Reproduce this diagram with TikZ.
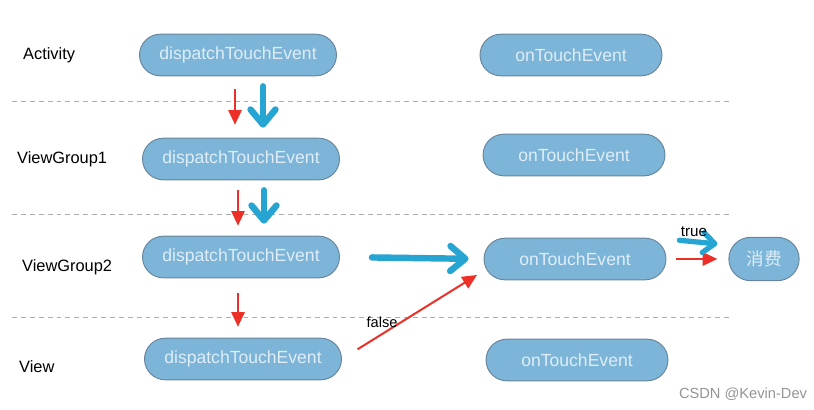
\documentclass[tikz,border=0pt]{standalone}
\usepackage{fontspec}
\setmainfont{Liberation Sans}
\newfontfamily\cjk{Noto Sans CJK SC}
\usepackage{tikz}
\usetikzlibrary{arrows.meta,shapes.misc,calc}
\definecolor{pill}{RGB}{124,181,215}
\definecolor{pillline}{RGB}{104,132,156}
\definecolor{pilltext}{RGB}{222,237,248}
\definecolor{flowblue}{RGB}{38,164,210}
\definecolor{flowred}{RGB}{236,48,40}
\definecolor{sepgray}{RGB}{172,172,172}
\tikzset{pillbox/.style={rounded rectangle,draw=pillline,line width=.8pt,fill=pill,text=pilltext,minimum height=1.25cm,inner sep=2pt,font=\fontsize{15}{18}\selectfont},redarr/.style={-{Triangle[length=4.4mm,width=4mm]},draw=flowred,line width=1.7pt},bluearr/.style={-{Straight Barb[length=4.5mm,width=7.5mm,round]},draw=flowblue,line width=5.5pt,line cap=round,line join=round}}

\begin{document}
\begin{tikzpicture}[x=.03cm,y=-.03cm,
lay/.style={anchor=west,font=\fontsize{14}{16}\selectfont},
sep/.style={draw=sepgray,dash pattern=on 4.2pt off 3.4pt,line width=.6pt},
disp/.style={pillbox,minimum width=6.05cm},
ontouch/.style={pillbox,minimum width=5.6cm}]
\useasboundingbox (0,0) rectangle (814,409);
\foreach \y in {101,214,317}{\draw[sep] (12,\y)--(730,\y);}
\node[lay] (lact) at (19,55) {Activity};
\node[lay] (lvg1) at (13,159) {ViewGroup1};
\node[lay] (lvg2) at (18,267) {ViewGroup2};
\node[lay] (lview) at (15,367) {View};
\node[disp] (d1) at (238,55) {dispatchTouchEvent};
\node[disp] (d2) at (241,159) {dispatchTouchEvent};
\node[disp] (d3) at (241,257) {dispatchTouchEvent};
\node[disp] (d4) at (243,359) {dispatchTouchEvent};
\node[ontouch] (o1) at (571,55) {onTouchEvent};
\node[ontouch] (o2) at (574,155) {onTouchEvent};
\node[ontouch] (o3) at (575,259) {onTouchEvent};
\node[ontouch] (o4) at (577,360) {onTouchEvent};
\node[pillbox,minimum width=2.25cm,minimum height=1.3cm,font=\cjk\fontsize{15}{18}\selectfont] (xf) at (764,259) {消费};
% down the chain
\draw[redarr,shorten <=.39cm,shorten >=.39cm] ([xshift=-.09cm]d1.south)--([xshift=-.09cm]d1.south|-d2.north);
\draw[bluearr,shorten <=.3cm,shorten >=.3cm] ([xshift=.75cm]d1.south)--([xshift=.75cm]d1.south|-d2.north);
\draw[redarr,shorten <=.3cm,shorten >=.3cm] ([xshift=-.09cm]d2.south)--([xshift=-.09cm]d2.south|-d3.north);
\draw[bluearr,shorten <=.3cm,shorten >=.36cm] ([xshift=.69cm]d2.south)--([xshift=.69cm]d2.south|-d3.north);
\draw[redarr,shorten <=.45cm,shorten >=.33cm] ([xshift=-.09cm]d3.south)--([xshift=-.09cm]d3.south|-d4.north);
% back up to onTouchEvent
\draw[bluearr,shorten <=.96cm,shorten >=.45cm] (d3.east)--(o3.west);
\coordinate (fend) at (477,275);
\draw[redarr,shorten <=.55cm] (d4.east)--(fend);
\node[font=\fontsize{12.5}{14}\selectfont] (lfalse) at (382,322) {false};
% consumed
\draw[redarr,shorten <=.3cm,shorten >=.33cm] (o3.east)--(xf.west);
\draw[bluearr,line width=4.5pt,-{Straight Barb[length=3.5mm,width=6mm,round]},shorten <=.39cm,shorten >=.33cm] ([yshift=.6cm]o3.east)--([yshift=.42cm]xf.west);
\node[font=\fontsize{13}{15}\selectfont] (ltrue) at (694,232) {true};
\node[text=black!42,font=\fontsize{12.5}{14}\selectfont] (mark) at (743,394) {CSDN @Kevin-Dev};
\end{tikzpicture}
\end{document}
